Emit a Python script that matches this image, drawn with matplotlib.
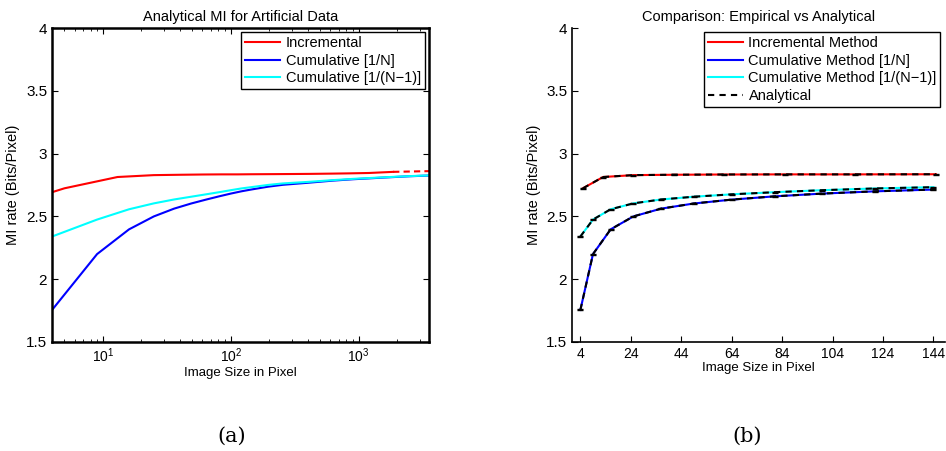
import numpy as np
import matplotlib
matplotlib.use("Agg")
import matplotlib.pyplot as plt

plt.rcParams['font.family'] = ['Liberation Sans', 'DejaVu Sans']

# image sizes (pixels) and MI rates
n_cum = [4, 9, 16, 25, 36, 49, 64, 81, 100, 121, 144, 196, 256, 400, 625, 900, 1600, 2500, 3600]
mi_cum_n = [1.755, 2.200, 2.397, 2.500, 2.562, 2.603, 2.634, 2.660, 2.682, 2.700, 2.714,
            2.737, 2.752, 2.768, 2.785, 2.796, 2.810, 2.820, 2.826]
mi_cum_n1 = [2.340, 2.475, 2.557, 2.604, 2.635, 2.657, 2.676, 2.693, 2.709, 2.723, 2.733,
             2.751, 2.763, 2.775, 2.789, 2.799, 2.812, 2.821, 2.827]

n_inc = [1, 5, 13, 25, 41, 61, 85, 113, 145, 221, 313, 421, 613, 841, 1201, 1861]
mi_inc = [2.50, 2.724, 2.814, 2.829, 2.832, 2.834, 2.835, 2.835, 2.836, 2.837, 2.838,
          2.839, 2.841, 2.843, 2.846, 2.855]
n_inc_tail = [1861, 3613]
mi_inc_tail = [2.855, 2.861]

# empirical error bar half-widths
err_inc = 0.004
err_cum = 0.004

fig = plt.figure(figsize=(9.46, 4.51), dpi=100)

# ---- (a) analytical, log x
ax1 = fig.add_axes([0.055, 0.2417, 0.3985, 0.696])
ax1.plot(n_inc, mi_inc, color='red', lw=1.5, label='Incremental')
ax1.plot(n_inc_tail, mi_inc_tail, color='red', lw=1.5, dashes=(3, 2))
ax1.plot(n_cum, mi_cum_n, color='blue', lw=1.5, label='Cumulative [1/N]')
ax1.plot(n_cum, mi_cum_n1, color='cyan', lw=1.5, label='Cumulative [1/(N\u22121)]')
ax1.set_xscale('log')
ax1.set_xlim(4, 3550)
ax1.set_ylim(1.5, 4)
ax1.set_yticks([1.5, 2, 2.5, 3, 3.5, 4])
ax1.set_yticklabels(['1.5', '2', '2.5', '3', '3.5', '4'])
ax1.tick_params(which='both', direction='in', top=True, right=True, labelsize=11)
ax1.tick_params(axis='x', labelsize=10)
ax1.tick_params(which='major', length=4)
ax1.tick_params(which='minor', length=2)
for s in ax1.spines.values():
    s.set_linewidth(1.8)
ax1.set_title('Analytical MI for Artificial Data', fontsize=10.5, pad=5)
ax1.set_xlabel('Image Size in Pixel', fontsize=9.5, labelpad=1)
ax1.set_ylabel('MI rate (Bits/Pixel)', fontsize=10.5, labelpad=4)
leg1 = ax1.legend(loc='upper right', fontsize=10.5, fancybox=False, edgecolor='black',
                  framealpha=1, handlelength=2.4, labelspacing=0.25, borderaxespad=0.3,
                  borderpad=0.25, handletextpad=0.4)
leg1.get_frame().set_linewidth(1.0)

# ---- (b) empirical vs analytical, linear x
ax2 = fig.add_axes([0.6047, 0.2417, 0.394, 0.696])
nr = n_inc[1:9]
yr = mi_inc[1:9]
nc = n_cum[:11]
yb = mi_cum_n[:11]
yc = mi_cum_n1[:11]
ax2.plot(nr, yr, color='red', lw=1.5, label='Incremental Method')
ax2.plot(nc, yb, color='blue', lw=1.5, label='Cumulative Method [1/N]')
ax2.plot(nc, yc, color='cyan', lw=1.5, label='Cumulative Method [1/(N\u22121)]')
ax2.errorbar(nr, yr, yerr=err_inc, fmt='none', ecolor='k', elinewidth=0.8, capsize=2.5)
ax2.errorbar(nc, yb, yerr=err_cum, fmt='none', ecolor='k', elinewidth=0.8, capsize=2.5)
ax2.errorbar(nc, yc, yerr=err_cum, fmt='none', ecolor='k', elinewidth=0.8, capsize=2.5)
ax2.plot(nr, yr, color='black', lw=1.5, dashes=(3, 2.5), label='Analytical')
ax2.plot(nc, yb, color='black', lw=1.5, dashes=(3, 2.5))
ax2.plot(nc, yc, color='black', lw=1.5, dashes=(3, 2.5))
ax2.set_xlim(0.7, 148.5)
ax2.set_ylim(1.5, 4)
ax2.set_xticks(np.arange(4, 145, 20))
ax2.set_yticks([1.5, 2, 2.5, 3, 3.5, 4])
ax2.set_yticklabels(['1.5', '2', '2.5', '3', '3.5', '4'])
ax2.spines['top'].set_visible(False)
ax2.spines['right'].set_visible(False)
for s in ['left', 'bottom']:
    ax2.spines[s].set_linewidth(1.2)
ax2.tick_params(direction='in', length=4, labelsize=11)
ax2.tick_params(axis='x', labelsize=10)
ax2.set_title('Comparison: Empirical vs Analytical', fontsize=10.5, pad=5)
ax2.set_xlabel('Image Size in Pixel', fontsize=9.5, labelpad=1)
ax2.set_ylabel('MI rate (Bits/Pixel)', fontsize=10.5, labelpad=4)
leg2 = ax2.legend(loc='upper right', fontsize=10.5, fancybox=False, edgecolor='black',
                  framealpha=1, handlelength=2.4, labelspacing=0.25, borderaxespad=0.3,
                  borderpad=0.25, handletextpad=0.4, bbox_to_anchor=(1.0, 1.0))
leg2.get_frame().set_linewidth(1.0)

fig.text(0.245, 0.02, '(a)', fontsize=15, family='DejaVu Serif', ha='center')
fig.text(0.79, 0.02, '(b)', fontsize=15, family='DejaVu Serif', ha='center')

fig.savefig('out.png', dpi=100)
